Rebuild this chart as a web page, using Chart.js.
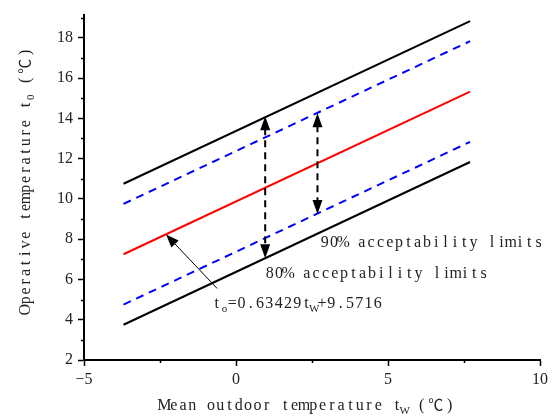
<!DOCTYPE html>
<html lang="en">
<head>
<meta charset="UTF-8">
<title>Adaptive comfort limits</title>
<script src="https://cdn.jsdelivr.net/npm/chart.js"></script>
<style>
  html, body { margin: 0; padding: 0; background: #fff; }
  #wrap { width: 552px; height: 419px; }
</style>
</head>
<body>
<div id="wrap"><canvas id="comfortChart" width="552" height="419"></canvas></div>
<script>
// end points of each line
const outdoorTemp = [-3.7, 7.7];
const neutralTemp = [7.25, 15.33];
const upper80 = [10.75, 18.83];
const lower80 = [3.75, 11.83];
const upper90 = [9.75, 17.83];
const lower90 = [4.75, 12.83];
const xTicks = [-5, 0, 5, 10];
const yTicks = [2, 4, 6, 8, 10, 12, 14, 16, 18];
const xMinor = [-2.5, 2.5, 7.5];
const yMinor = [3, 5, 7, 9, 11, 13, 15, 17, 19];

const SERIF = '"Liberation Serif", serif';
const CJK = '"Noto Sans CJK SC", sans-serif';
const CELL = 9.3;     // fixed advance, the original font is monospaced
const SUBCELL = 6.2;

function pts(ys) {
    return outdoorTemp.map((x, i) => ({ x: x, y: ys[i] }));
}

const isWide = ch => ch.charCodeAt(0) > 0x2000;

// parts = [[text, isSub], ...], drawn one glyph per cell
function partsWidth(parts) {
    let w = 0;
    parts.forEach(p => {
        for (const ch of p[0]) w += p[1] ? SUBCELL : (isWide(ch) ? 2 * CELL : CELL);
    });
    return w;
}
function drawParts(ctx, parts, x, y) {
    ctx.textBaseline = 'alphabetic';
    ctx.textAlign = 'center';
    parts.forEach(p => {
        for (const ch of p[0]) {
            let w;
            if (p[1]) {
                w = SUBCELL;
                ctx.font = '11px ' + SERIF;
                ctx.fillText(ch, x + w / 2, y + 4);
            } else if (isWide(ch)) {
                w = 2 * CELL;
                ctx.font = '15px ' + CJK;
                ctx.fillText(ch, x + w / 2, y);
            } else {
                w = CELL;
                ctx.font = '16px ' + SERIF;
                ctx.fillText(ch, x + w / 2, y);
            }
            x += w;
        }
    });
}

function head(ctx, x, y, dx, dy, len, half) {
    const n = Math.hypot(dx, dy);
    const ux = dx / n, uy = dy / n;
    ctx.beginPath();
    ctx.moveTo(x, y);
    ctx.lineTo(x - ux * len - uy * half, y - uy * len + ux * half);
    ctx.lineTo(x - ux * len + uy * half, y - uy * len - ux * half);
    ctx.closePath();
    ctx.fill();
}

function dashedDoubleArrow(ctx, xs, ys, tx, y1, y2) {
    const x = xs.getPixelForValue(tx);
    const top = ys.getPixelForValue(y1);
    const bot = ys.getPixelForValue(y2);
    ctx.save();
    ctx.strokeStyle = '#000';
    ctx.fillStyle = '#000';
    ctx.lineWidth = 2;
    ctx.setLineDash([7, 5]);
    ctx.beginPath();
    ctx.moveTo(x, top + 12);
    ctx.lineTo(x, bot - 12);
    ctx.stroke();
    ctx.setLineDash([]);
    head(ctx, x, top, 0, -1, 14, 5);
    head(ctx, x, bot, 0, 1, 14, 5);
    ctx.restore();
}

const decor = {
    id: 'decor',
    afterDraw(chart) {
        const ctx = chart.ctx;
        const xs = chart.scales.x, ys = chart.scales.y;
        const area = chart.chartArea;
        ctx.save();
        // minor ticks
        ctx.strokeStyle = '#000';
        ctx.lineWidth = 1.5;
        ctx.beginPath();
        xMinor.forEach(v => {
            const px = Math.round(xs.getPixelForValue(v)) + 0.5;
            ctx.moveTo(px, area.bottom);
            ctx.lineTo(px, area.bottom + 3);
        });
        yMinor.forEach(v => {
            const py = Math.round(ys.getPixelForValue(v)) + 0.5;
            ctx.moveTo(area.left, py);
            ctx.lineTo(area.left - 3, py);
        });
        ctx.stroke();

        // acceptability range arrows
        dashedDoubleArrow(ctx, xs, ys, 0.96, 14.1, 7.05);
        dashedDoubleArrow(ctx, xs, ys, 2.68, 14.25, 9.25);

        // arrow to the neutral line
        const tipX = xs.getPixelForValue(-2.3), tipY = ys.getPixelForValue(8.23);
        const tailX = xs.getPixelForValue(-0.62), tailY = ys.getPixelForValue(5.55);
        ctx.strokeStyle = '#000';
        ctx.fillStyle = '#000';
        ctx.lineWidth = 1;
        ctx.beginPath();
        ctx.moveTo(tailX, tailY);
        ctx.lineTo(tipX + (tailX - tipX) * 0.15, tipY + (tailY - tipY) * 0.15);
        ctx.stroke();
        head(ctx, tipX, tipY, tipX - tailX, tipY - tailY, 13, 5);

        // labels
        ctx.fillStyle = '#222';
        drawParts(ctx, [['90% acceptability limits', 0]], 320, 247);
        drawParts(ctx, [['80% acceptability limits', 0]], 265, 278);
        drawParts(ctx, [['t', 0], ['o', 1], ['=0.63429t', 0], ['W', 1], ['+9.5716', 0]], 212, 308);

        // axis titles
        const xt = [['Mean outdoor temperature t', 0], ['W', 1], [' (\u2103)', 0]];
        drawParts(ctx, xt, 307 - partsWidth(xt) / 2, 410);

        const yt = [['Operative temperature t', 0], ['0', 1], [' (\u2103)', 0]];
        const yw = partsWidth(yt);
        ctx.translate(30, 181);
        ctx.rotate(-Math.PI / 2);
        drawParts(ctx, yt, -yw / 2, 0);
        ctx.restore();
    }
};

const solid = (data, color) => ({ data: pts(data), borderColor: color, borderWidth: 2, fill: false });
const dashed = (data, color) => ({ data: pts(data), borderColor: color, borderWidth: 2, borderDash: [8, 6], fill: false });

new Chart(document.getElementById('comfortChart'), {
    type: 'line',
    data: {
        datasets: [
            solid(upper80, '#000000'),
            dashed(upper90, '#0000ff'),
            solid(neutralTemp, '#ff0000'),
            dashed(lower90, '#0000ff'),
            solid(lower80, '#000000')
        ]
    },
    options: {
        responsive: false,
        animation: false,
        devicePixelRatio: 1,
        layout: { padding: { left: 0, right: 12, top: 9, bottom: 0 } },
        elements: { point: { radius: 0 }, line: { tension: 0 } },
        plugins: { legend: { display: false }, tooltip: { enabled: false } },
        scales: {
            x: {
                type: 'linear',
                min: -5,
                max: 10,
                afterBuildTicks: s => { s.ticks = xTicks.map(v => ({ value: v })); },
                afterFit: s => { s.height = 59; },
                grid: { drawOnChartArea: false, tickLength: 6, tickColor: '#000', tickWidth: 1.5 },
                border: { display: true, color: '#000', width: 2 },
                ticks: {
                    font: { family: SERIF, size: 16 },
                    color: '#222',
                    padding: 4,
                    maxRotation: 0,
                    callback: v => v < 0 ? '\u2212' + Math.abs(v) : String(v)
                }
            },
            y: {
                type: 'linear',
                min: 2,
                max: 19.15,
                afterBuildTicks: s => { s.ticks = yTicks.map(v => ({ value: v })); },
                afterFit: s => { s.width = 84; },
                grid: { drawOnChartArea: false, tickLength: 6, tickColor: '#000', tickWidth: 1.5 },
                border: { display: true, color: '#000', width: 2 },
                ticks: {
                    font: { family: SERIF, size: 16 },
                    color: '#222',
                    padding: 5,
                    callback: v => String(v)
                }
            }
        }
    },
    plugins: [decor]
});
</script>
</body>
</html>
